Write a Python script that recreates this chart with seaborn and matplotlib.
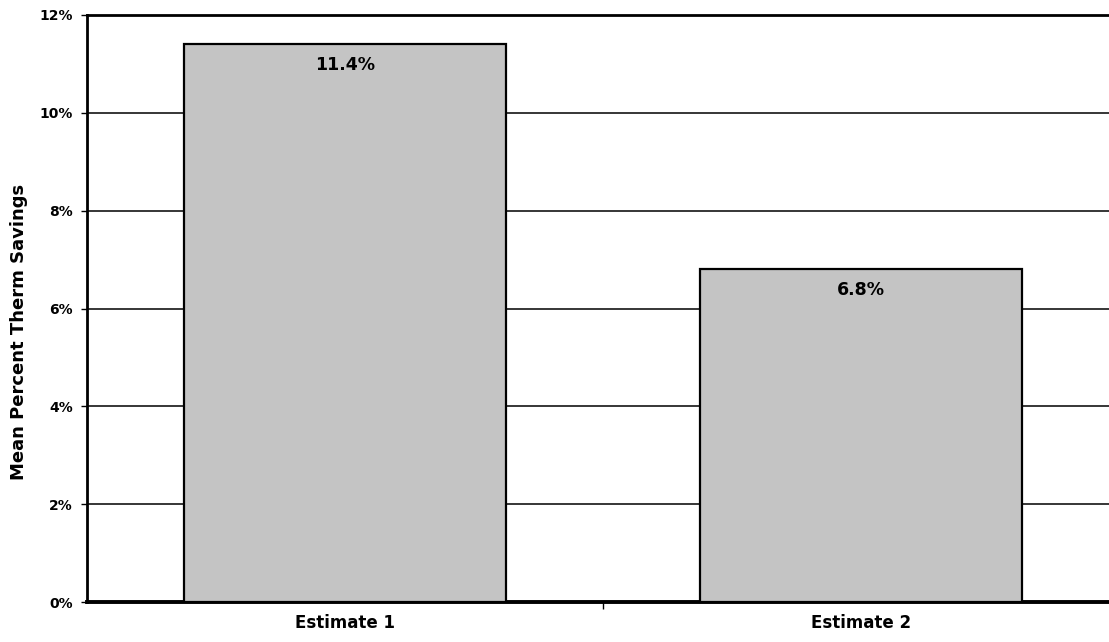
import matplotlib
matplotlib.use("Agg")
import matplotlib.pyplot as plt
import seaborn as sns
import pandas as pd
from matplotlib.ticker import FuncFormatter, MultipleLocator, FixedLocator

categories = ["Estimate 1", "Estimate 2"]
savings_pct = [11.4, 6.8]
value_labels = ["11.4%", "6.8%"]
y_label = "Mean Percent Therm Savings"

sns.set_theme(style="white")
plt.rcParams["font.family"] = ["DejaVu Sans"]
plt.rcParams["font.weight"] = "bold"

df = pd.DataFrame({"category": categories, "savings": savings_pct})

W, H = 1109, 642
fig = plt.figure(figsize=(W / 100, H / 100), dpi=100)
# plot area runs past the right edge of the canvas
ax = fig.add_axes([87 / W, 1 - 602 / H, 1032 / W, (602 - 15) / H])

sns.barplot(data=df, x="category", y="savings", color="#c4c4c4", saturation=1,
            width=0.625, edgecolor="black", linewidth=1.6, ax=ax, zorder=3)

ax.set_ylim(0, 12)
ax.set_xlim(-0.5, 1.5)
ax.yaxis.set_major_locator(MultipleLocator(2))
ax.yaxis.set_major_formatter(FuncFormatter(lambda v, _: f"{v:.0f}%"))
ax.xaxis.set_minor_locator(FixedLocator([0.5]))
ax.grid(axis="y", which="major", color="black", linewidth=1.1, zorder=0)
ax.set_axisbelow(True)

for spine in ["left", "top"]:
    ax.spines[spine].set_color("black")
    ax.spines[spine].set_linewidth(2)
ax.spines["bottom"].set_color("black")
ax.spines["bottom"].set_linewidth(2.8)
ax.spines["right"].set_visible(False)

ax.tick_params(axis="y", which="major", direction="out", length=4, width=1,
               color="black", labelsize=10, pad=6, left=True)
ax.tick_params(axis="x", which="major", length=0, labelsize=12, pad=9)
ax.tick_params(axis="x", which="minor", direction="out", length=5, width=1,
               color="black", bottom=True)
for lbl in ax.get_yticklabels() + ax.get_xticklabels():
    lbl.set_fontweight("bold")
    lbl.set_color("black")

ax.set_xlabel("")
ax.set_ylabel(y_label, fontsize=13, fontweight="bold", color="black")
ax.yaxis.set_label_coords(-0.057, 0.46)

for i, (v, txt) in enumerate(zip(savings_pct, value_labels)):
    ax.annotate(txt, xy=(i, v), xytext=(0, -15), textcoords="offset points",
                ha="center", va="center", fontsize=12.5, fontweight="bold",
                color="black", zorder=5)

fig.savefig("out.png", dpi=100)
